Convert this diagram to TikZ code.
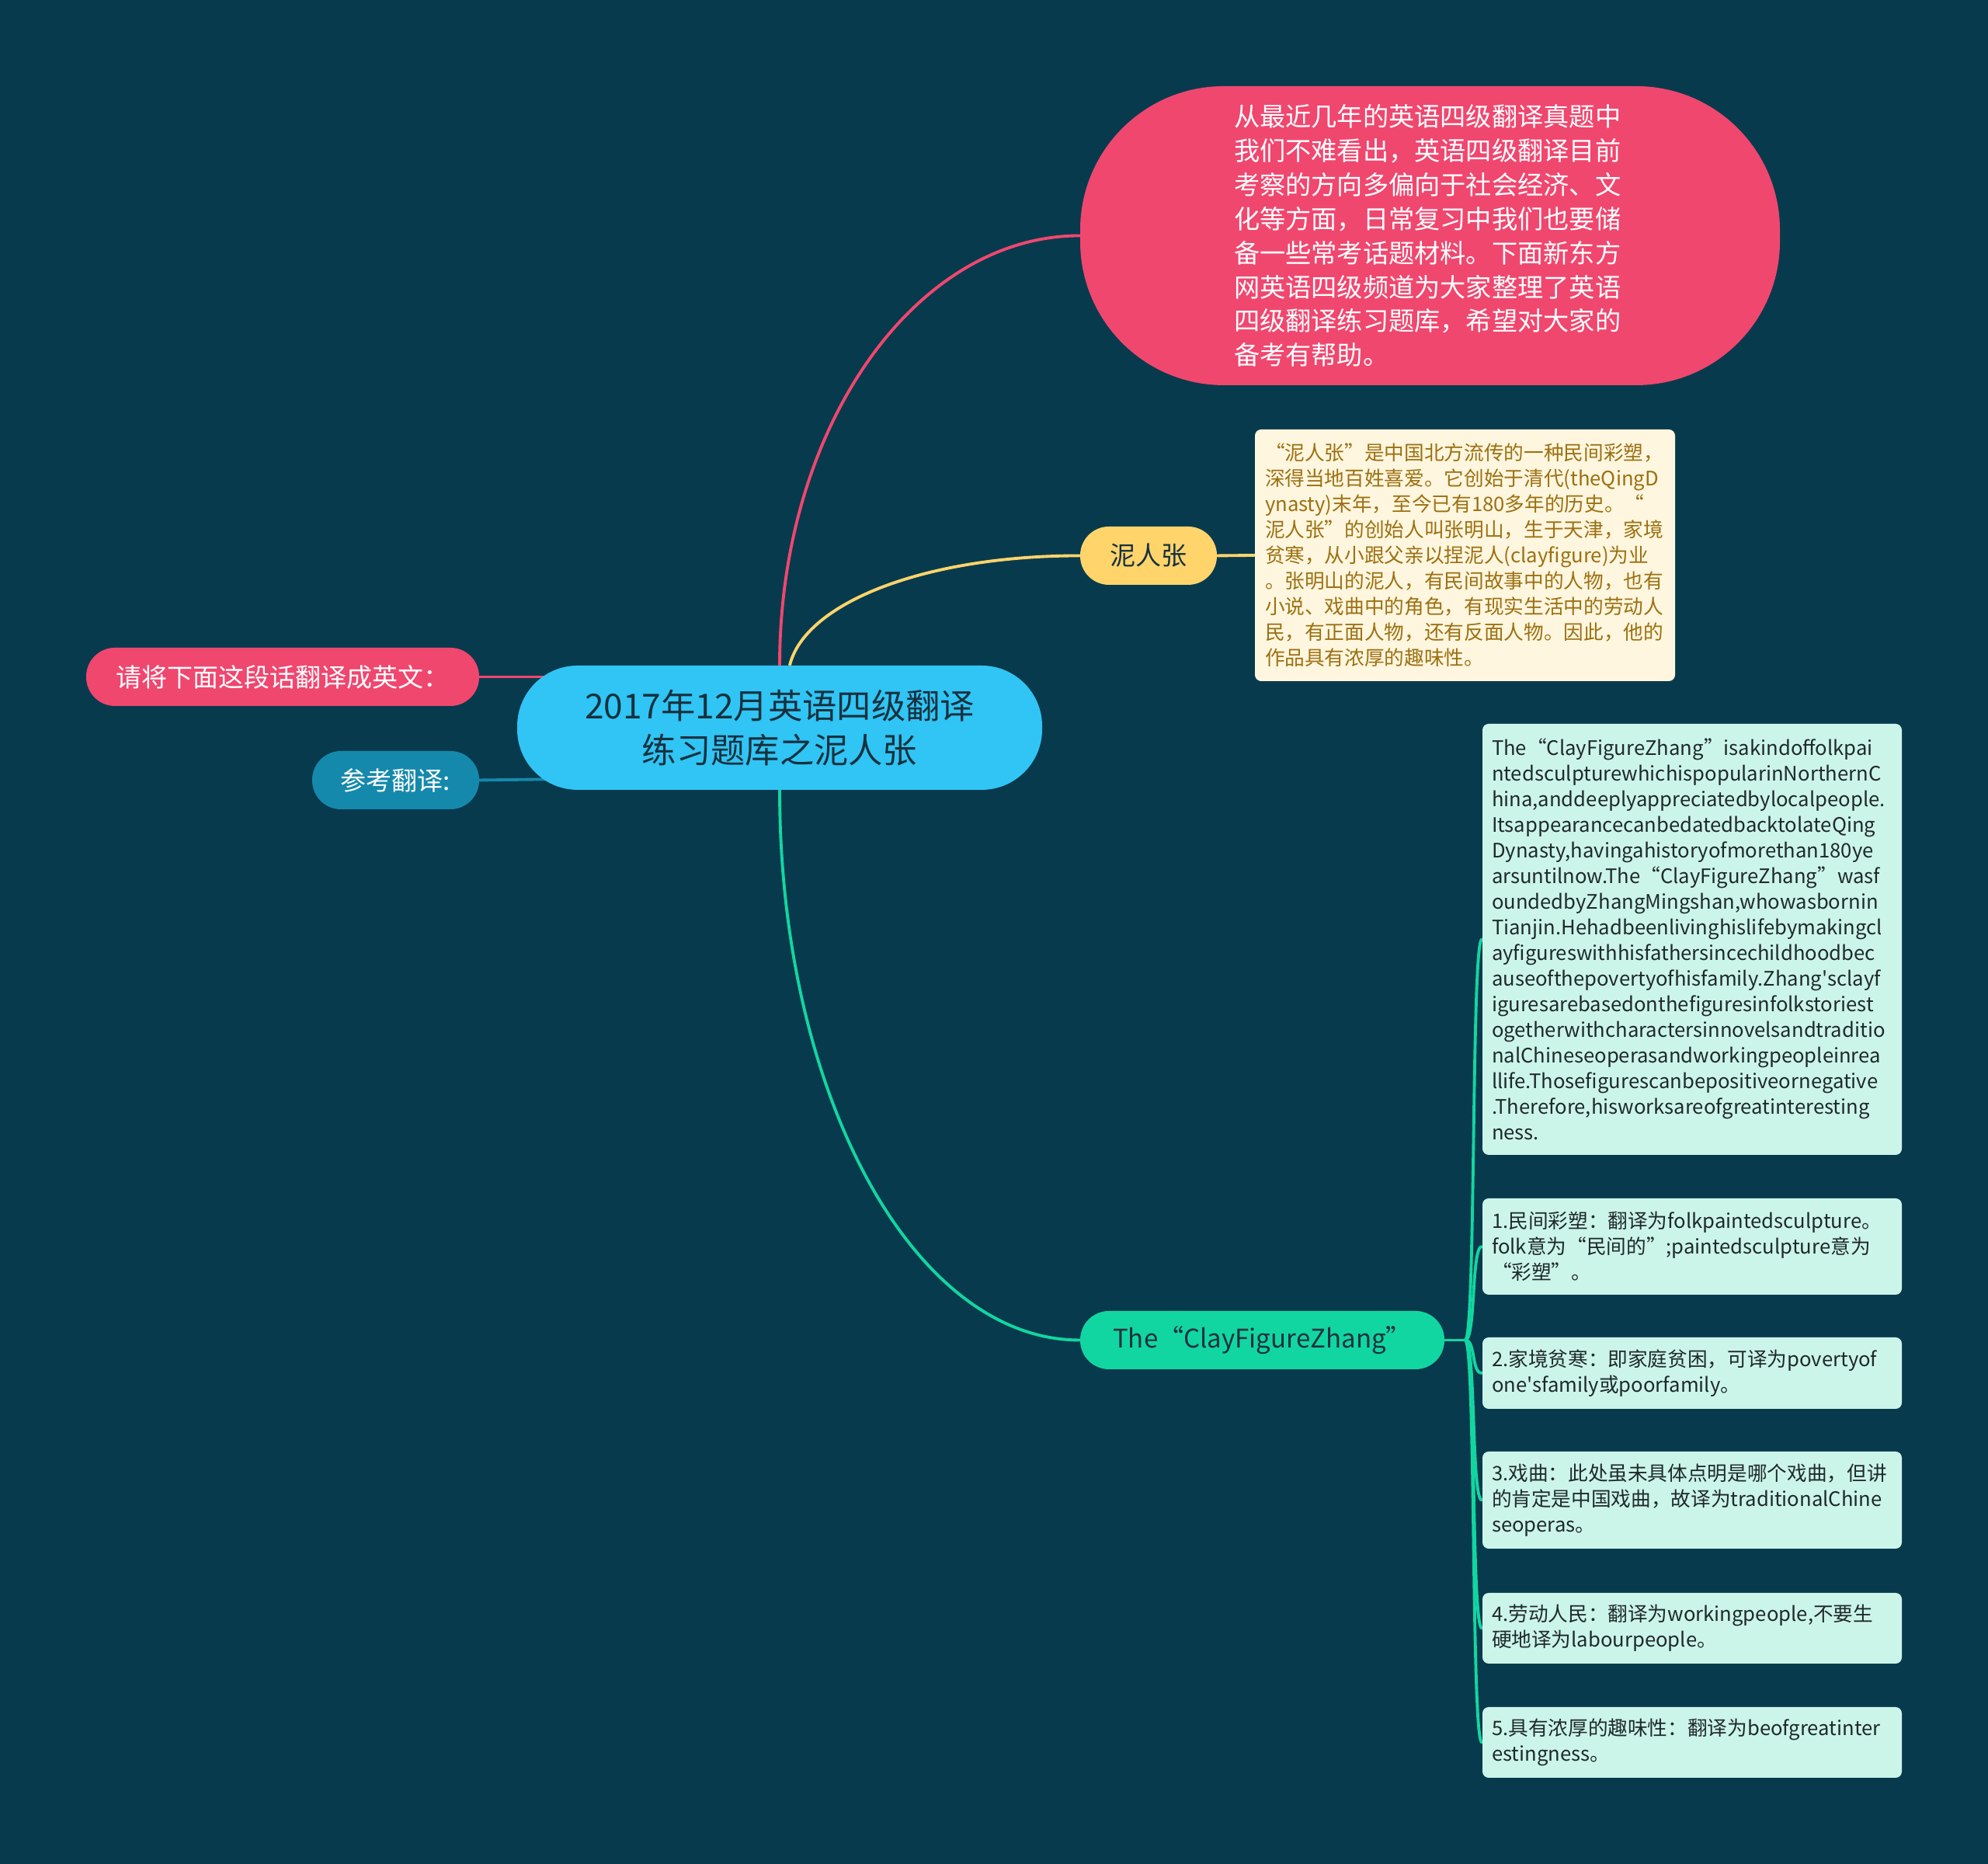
\documentclass[tikz,border=0pt]{standalone}
\usepackage{fontspec}
\setmainfont{Noto Sans CJK SC}
\usepackage{tikz}

\definecolor{bgnavy}{HTML}{083A4D}
\definecolor{rosered}{HTML}{F0476F}
\definecolor{skyblue}{HTML}{30C5F4}
\definecolor{sunyellow}{HTML}{FFD46B}
\definecolor{creambox}{HTML}{FEF6DE}
\definecolor{goldink}{HTML}{9C7012}
\definecolor{seateal}{HTML}{1589AC}
\definecolor{mintgreen}{HTML}{12D6A1}
\definecolor{mintbox}{HTML}{CCF5EA}
\definecolor{cardink}{HTML}{1F2A2A}
\definecolor{rootink}{HTML}{17313F}

\newcommand\fsRoot{\fontsize{12.6pt}{16.2pt}\selectfont}
\newcommand\fsIntro{\fontsize{9.45pt}{12.5pt}\selectfont}
\newcommand\fsTag{\fontsize{9.4pt}{12pt}\selectfont}
\newcommand\fsCard{\fontsize{7.3pt}{9.4pt}\selectfont}

\pgfdeclarelayer{background}
\pgfdeclarelayer{edges}
\pgfsetlayers{background,edges,main}

\begin{document}
\begin{tikzpicture}[
    pill/.style={rounded corners=0.37cm, minimum height=0.75cm, inner sep=0pt, font=\fsTag},
    card/.style={rounded corners=0.08cm, align=left, inner xsep=0.12cm, inner ysep=0pt, font=\fsCard},
    mint/.style={card, fill=mintbox, text=cardink, text width=5.16cm},
    link/.style={line width=1.1pt, line cap=round}
]
    \useasboundingbox (0,0) rectangle (25.6,24);
    \begin{pgfonlayer}{background}
        \fill[bgnavy] (0,0) rectangle (25.6,24);
    \end{pgfonlayer}

    % Central topic
    \node[fill=skyblue, text=rootink, rounded corners=0.78cm, minimum width=6.76cm,
          minimum height=1.6cm, align=center, font=\fsRoot] (root) at (10.04,14.63)
        {2017年12月英语四级翻译\\练习题库之泥人张};

    % Right side, upper branches
    \node[fill=rosered, text=white, rounded corners=1.85cm, minimum width=9.01cm,
          minimum height=3.85cm, text width=5.05cm, align=left, font=\fsIntro] (intro) at (18.415,20.965)
        {从最近几年的英语四级翻译真题中\\我们不难看出，英语四级翻译目前\\考察的方向多偏向于社会经济、文\\化等方面，日常复习中我们也要储\\备一些常考话题材料。下面新东方\\网英语四级频道为大家整理了英语\\四级翻译练习题库，希望对大家的\\备考有帮助。};

    \node[pill, fill=sunyellow, text=rootink, minimum width=1.76cm] (nrz) at (14.79,16.845) {泥人张};

    \node[card, fill=creambox, text=goldink, text width=5.15cm, inner xsep=0.13cm,
          minimum height=3.24cm] (story) at (18.865,16.85)
        {“泥人张”是中国北方流传的一种民间彩塑，\\深得当地百姓喜爱。它创始于清代(theQingD\\ynasty)末年，至今已有180多年的历史。“\\泥人张”的创始人叫张明山，生于天津，家境\\贫寒，从小跟父亲以捏泥人(clayfigure)为业\\。张明山的泥人，有民间故事中的人物，也有\\小说、戏曲中的角色，有现实生活中的劳动人\\民，有正面人物，还有反面人物。因此，他的\\作品具有浓厚的趣味性。};

    % Left side
    \node[pill, fill=rosered, text=white, minimum width=5.06cm] (ask) at (3.64,15.285) {请将下面这段话翻译成英文：};
    \node[pill, fill=seateal, text=white, minimum width=2.15cm] (ref) at (5.095,13.955) {参考翻译:};

    % Right side, lower branch
    \node[pill, fill=mintgreen, text=rootink, minimum width=4.69cm] (tfz) at (16.255,6.745) {The“ClayFigureZhang”};

    \node[mint, minimum height=5.55cm] (mA) at (21.79,11.905)
        {The“ClayFigureZhang”isakindoffolkpai\\ntedsculpturewhichispopularinNorthernC\\hina,anddeeplyappreciatedbylocalpeople.\\ItsappearancecanbedatedbacktolateQing\\Dynasty,havingahistoryofmorethan180ye\\arsuntilnow.The“ClayFigureZhang”wasf\\oundedbyZhangMingshan,whowasbornin\\Tianjin.Hehadbeenlivinghislifebymakingcl\\ayfigureswithhisfathersincechildhoodbec\\auseofthepovertyofhisfamily.Zhang\textquotesingle sclayf\\iguresarebasedonthefiguresinfolkstoriest\\ogetherwithcharactersinnovelsandtraditio\\nalChineseoperasandworkingpeopleinrea\\llife.Thosefigurescanbepositiveornegative\\.Therefore,hisworksareofgreatinteresting\\ness.};
    \node[mint, minimum height=1.24cm] (m1) at (21.79,7.95)
        {1.民间彩塑：翻译为folkpaintedsculpture。\\folk意为“民间的”;paintedsculpture意为\\“彩塑”。};
    \node[mint, minimum height=0.92cm] (m2) at (21.79,6.32)
        {2.家境贫寒：即家庭贫困，可译为povertyof\\one\textquotesingle sfamily或poorfamily。};
    \node[mint, minimum height=1.25cm] (m3) at (21.79,4.685)
        {3.戏曲：此处虽未具体点明是哪个戏曲，但讲\\的肯定是中国戏曲，故译为traditionalChine\\seoperas。};
    \node[mint, minimum height=0.91cm] (m4) at (21.79,3.035)
        {4.劳动人民：翻译为workingpeople,不要生\\硬地译为labourpeople。};
    \node[mint, minimum height=0.91cm] (m5) at (21.79,1.565)
        {5.具有浓厚的趣味性：翻译为beofgreatinter\\estingness。};

    % Connectors
    \coordinate (fork) at ([xshift=0.26cm]tfz.east);
    \begin{pgfonlayer}{edges}
        \draw[link, rosered] (root.north) .. controls +(0,3.06) and +(-2.12,0) .. (intro.west);
        \draw[link, sunyellow] ([xshift=0.13cm]root.north) .. controls +(0.2,0.8) and +(-2.0,0) .. (nrz.west);
        \draw[link, sunyellow] (nrz.east) -- (story.west);
        \draw[link, mintgreen] (root.south) .. controls +(0,-3.91) and +(-2.14,0) .. (tfz.west);
        \draw[link, rosered] (ask.east) -- (ask.east -| root.center);
        \draw[link, seateal] (ref.east) -- ([yshift=0.05cm]ref.east -| root.center);
        \draw[link, mintgreen] (tfz.east) -- (fork);
        \foreach \b in {mA,m1,m2,m3,m4,m5}
            \draw[link, mintgreen] (fork) .. controls +(0.14,0) and +(-0.14,0) .. (\b.west);
    \end{pgfonlayer}
\end{tikzpicture}
\end{document}
